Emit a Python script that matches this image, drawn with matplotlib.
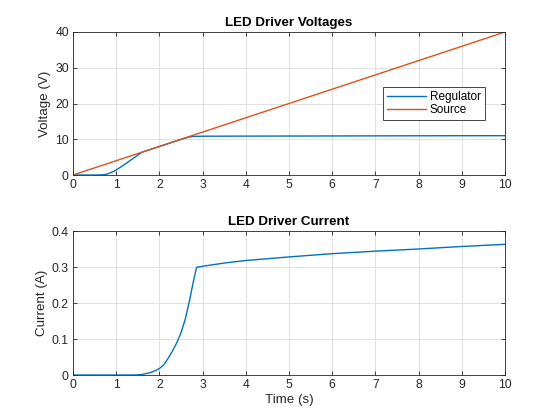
import matplotlib
matplotlib.use("Agg")
import matplotlib.pyplot as plt

plt.rcParams['font.family'] = ['Liberation Sans', 'DejaVu Sans']

# Data
t_src = [0, 10]
v_src = [0, 40]

t_reg = [0, 0.5, 0.7, 0.8, 0.9, 1.0, 1.2, 1.4, 1.6, 2.0, 2.5, 2.7, 2.8, 3, 4, 5, 6, 7, 8, 9, 10]
v_reg = [0, 0, 0.05, 0.3, 0.8, 1.4, 3.0, 4.7, 6.4, 7.95, 9.95, 10.65, 10.8, 10.85, 10.88, 10.9, 10.92, 10.95, 10.97, 10.99, 11.0]

t_cur = [0, 1.4, 1.5, 1.6, 1.7, 1.8, 1.9, 2.0, 2.1, 2.2, 2.3, 2.4, 2.5, 2.6, 2.7, 2.78, 2.86,
         3, 3.5, 4, 5, 6, 7, 8, 9, 10]
i_cur = [0, 0, 0.0005, 0.0015, 0.004, 0.007, 0.012, 0.018, 0.028, 0.046, 0.066, 0.089, 0.117, 0.156, 0.208, 0.256, 0.299,
         0.302, 0.311, 0.318, 0.328, 0.337, 0.344, 0.350, 0.357, 0.363]

xticks = list(range(0, 11))
yticks_v = [0, 10, 20, 30, 40]
yticks_i = [0, 0.1, 0.2, 0.3, 0.4]

blue = '#0072BD'
orange = '#D95319'
dark = '#262626'

fig = plt.figure(figsize=(5.6, 4.2), dpi=100)
ax1 = fig.add_axes([73/560, 1 - 175/420, 432/560, 143/420])
ax2 = fig.add_axes([73/560, 1 - 375/420, 432/560, 144/420])

def style(ax):
    ax.set_xlim(0, 10)
    ax.set_xticks(xticks)
    ax.grid(True, color='#dcdcdc', linewidth=0.6)
    ax.set_axisbelow(True)
    ax.tick_params(direction='in', top=True, right=True, length=3, width=0.6,
                   labelsize=8.7, colors=dark, pad=3)
    for s in ax.spines.values():
        s.set_color(dark)
        s.set_linewidth(0.6)

ax1.plot(t_reg, v_reg, color=blue, linewidth=1.0, label='Regulator')
ax1.plot(t_src, v_src, color=orange, linewidth=1.0, label='Source')
style(ax1)
ax1.set_ylim(0, 40)
ax1.set_yticks(yticks_v)
ax1.set_ylabel('Voltage (V)', fontsize=9.6, color=dark, labelpad=3)
ax1.set_title('LED Driver Voltages', fontsize=9.6, fontweight='bold', color='black', pad=4)
leg = ax1.legend(loc='center', bbox_to_anchor=(0.8355, 0.5),
                 fontsize=8.5, frameon=True, fancybox=False, framealpha=1, borderpad=0.3,
                 handlelength=3.3, handletextpad=0.35, labelspacing=0.1, borderaxespad=0)
leg.get_frame().set_edgecolor(dark)
leg.get_frame().set_linewidth(0.6)

ax2.plot(t_cur, i_cur, color=blue, linewidth=1.0)
style(ax2)
ax2.set_ylim(0, 0.4)
ax2.set_yticks(yticks_i)
ax2.set_yticklabels(['0', '0.1', '0.2', '0.3', '0.4'])
ax2.set_ylabel('Current (A)', fontsize=9.6, color=dark, labelpad=3)
ax2.set_xlabel('Time (s)', fontsize=9.6, color=dark, labelpad=2)
ax2.set_title('LED Driver Current', fontsize=9.6, fontweight='bold', color='black', pad=4)

fig.savefig('out.png', dpi=100)
